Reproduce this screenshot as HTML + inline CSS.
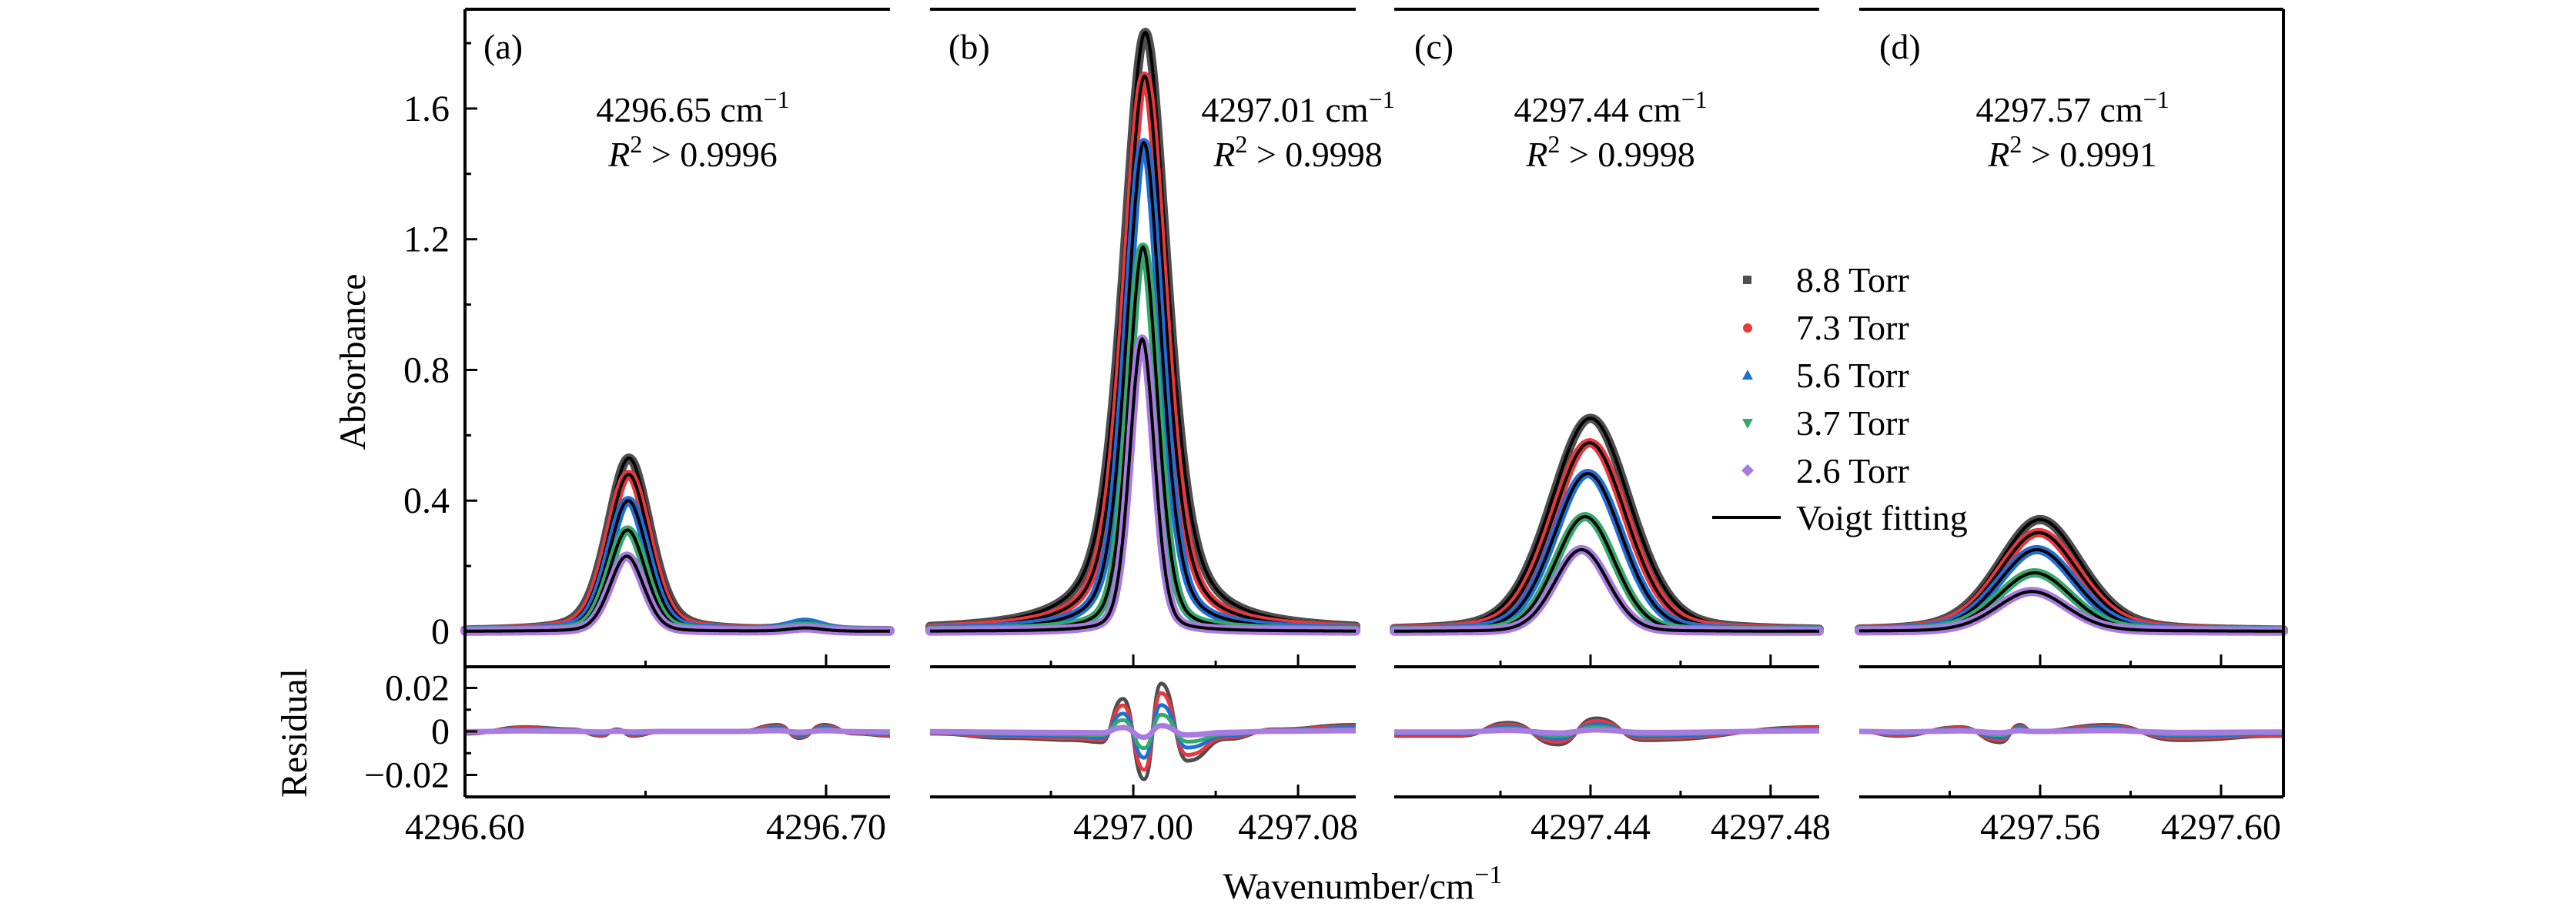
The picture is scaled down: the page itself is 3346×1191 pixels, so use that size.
<!DOCTYPE html>
<html><head><meta charset="utf-8">
<style>
html,body{margin:0;padding:0;background:#fff;}
svg{display:block;}
svg text{font-family:"Liberation Serif","DejaVu Serif",serif;fill:#000;}
</style></head>
<body>
<svg id="chart" xmlns="http://www.w3.org/2000/svg" width="3346" height="1191" viewBox="0 0 3346 1191" font-family="Liberation Serif, DejaVu Serif, serif">
<g id="bands"></g>
<g id="axes"></g>
<g id="legend">
  <rect x="2264" y="358" width="11" height="11" fill="#4d4d4d"/>
  <text x="2333" y="379" font-size="46">8.8 Torr</text>
  <circle cx="2270" cy="426" r="6" fill="#e8383d"/>
  <text x="2333" y="441" font-size="46">7.3 Torr</text>
  <polygon points="2270,480 2277,493 2263,493" fill="#1f6fd6"/>
  <text x="2333" y="503" font-size="46">5.6 Torr</text>
  <polygon points="2263,544 2277,544 2270,557" fill="#35a96b"/>
  <text x="2333" y="565" font-size="46">3.7 Torr</text>
  <polygon points="2270,603 2278,611 2270,619 2262,611" fill="#a97be0"/>
  <text x="2333" y="627" font-size="46">2.6 Torr</text>
  <line x1="2224" y1="672" x2="2313" y2="672" stroke="#000" stroke-width="4"/>
  <text x="2333" y="688" font-size="46">Voigt fitting</text>
</g>
<g id="annot">
  <text x="628" y="76" font-size="46">(a)</text>
  <text x="1232" y="76" font-size="46">(b)</text>
  <text x="1837" y="76" font-size="46">(c)</text>
  <text x="2441" y="76" font-size="46">(d)</text>
  <text x="900" y="158" font-size="46" text-anchor="middle">4296.65 cm<tspan dy="-18" font-size="32">−1</tspan></text>
  <text x="900" y="216" font-size="46" text-anchor="middle"><tspan font-style="italic">R</tspan><tspan dy="-18" font-size="32">2</tspan><tspan dy="18"> &gt; 0.9996</tspan></text>
  <text x="1686" y="158" font-size="46" text-anchor="middle">4297.01 cm<tspan dy="-18" font-size="32">−1</tspan></text>
  <text x="1686" y="216" font-size="46" text-anchor="middle"><tspan font-style="italic">R</tspan><tspan dy="-18" font-size="32">2</tspan><tspan dy="18"> &gt; 0.9998</tspan></text>
  <text x="2092" y="158" font-size="46" text-anchor="middle">4297.44 cm<tspan dy="-18" font-size="32">−1</tspan></text>
  <text x="2092" y="216" font-size="46" text-anchor="middle"><tspan font-style="italic">R</tspan><tspan dy="-18" font-size="32">2</tspan><tspan dy="18"> &gt; 0.9998</tspan></text>
  <text x="2692" y="158" font-size="46" text-anchor="middle">4297.57 cm<tspan dy="-18" font-size="32">−1</tspan></text>
  <text x="2692" y="216" font-size="46" text-anchor="middle"><tspan font-style="italic">R</tspan><tspan dy="-18" font-size="32">2</tspan><tspan dy="18"> &gt; 0.9991</tspan></text>
  <text x="0" y="0" font-size="48" text-anchor="middle" transform="translate(474,470) rotate(-90)">Absorbance</text>
  <text x="0" y="0" font-size="48" text-anchor="middle" transform="translate(398,952) rotate(-90)">Residual</text>
  <text x="1770" y="1167" font-size="48" text-anchor="middle">Wavenumber/cm<tspan dy="-20" font-size="34">−1</tspan></text>
</g>
</svg>
<script>
// ---- data ----
const seriesNames = ["8.8 Torr","7.3 Torr","5.6 Torr","3.7 Torr","2.6 Torr"];
const seriesColors = ["#4d4d4d","#e8383d","#1f6fd6","#35a96b","#a97be0"];
const panelIds = ["a","b","c","d"];
const panelRangeMin = [4296.600, 4296.9013, 4297.3964, 4297.5200];
const panelRangeMax = [4296.7177, 4297.1080, 4297.4908, 4297.6138];
const majorTicks = [[4296.60,4296.70],[4297.00,4297.08],[4297.44,4297.48],[4297.56,4297.60]];
const majorTickLabels = [["4296.60","4296.70"],["4297.00","4297.08"],["4297.44","4297.48"],["4297.56","4297.60"]];
const minorTicks = [[4296.65],[4296.96,4297.04],[4297.42,4297.46],[4297.54,4297.58]];
const absTicks = [0,0.4,0.8,1.2,1.6];
const absTickLabels = ["0","0.4","0.8","1.2","1.6"];
const absMinor = [0.2,0.6,1.0,1.4,1.8];
const resTicks = [0.02,0,-0.02];
const resTickLabels = ["0.02","0","−0.02"];
const resMinor = [0.01,-0.01];
// line centers (cm-1) per panel per series
const centers_a = [4296.6454,4296.6453,4296.6452,4296.6450,4296.6448];
const centers_b = [4297.0058,4297.0055,4297.0051,4297.0047,4297.0043];
const centers_c = [4297.4400,4297.4398,4297.4394,4297.4388,4297.4380];
const centers_d = [4297.5600,4297.5597,4297.5593,4297.5588,4297.5582];
// peak heights
const heights_a = [0.53,0.48,0.40,0.31,0.23];
const heights_b = [1.833,1.699,1.496,1.176,0.895];
const heights_c = [0.652,0.577,0.483,0.351,0.250];
const heights_d = [0.342,0.302,0.250,0.179,0.122];
// FWHM (cm-1)
const fwhm_a = [0.0139,0.0133,0.0126,0.0118,0.0111];
const fwhm_b = [0.0258,0.0230,0.0203,0.0169,0.0143];
const fwhm_c = [0.0208,0.0194,0.0178,0.0156,0.0140];
const fwhm_d = [0.0217,0.0209,0.0202,0.0192,0.0184];
// Lorentzian fraction
const eta_a = [0.35,0.32,0.28,0.22,0.18];
const eta_b = [0.55,0.5,0.42,0.32,0.22];
const eta_c = [0.25,0.22,0.18,0.14,0.1];
const eta_d = [0.3,0.28,0.25,0.22,0.2];
// weak neighbour line in panel (a)
const weakCenter_a = 4296.6942;
const weakHeights_a = [0.022,0.022,0.026,0.016,0.010];
const weakFwhm_a = 0.011;
// residual of 8.8 Torr: wavenumbers & values per panel
const resX_a = [4296.600,4296.6168,4296.6295,4296.6379,4296.6421,4296.6463,4296.6547,4296.6758,4296.6867,4296.6926,4296.6994,4296.7078,4296.7177];
const resY_a = [-0.001,0.002,0.001,-0.002,0.001,-0.002,0.000,0.000,0.003,-0.003,0.003,-0.001,-0.002];
const resX_b = [4296.9013,4296.9402,4296.9712,4296.9845,4296.9950,4297.0052,4297.0136,4297.0263,4297.0450,4297.0690,4297.1080];
const resY_b = [-0.001,-0.003,-0.004,-0.005,0.015,-0.022,0.022,-0.0135,-0.0035,0.001,0.003];
const resX_c = [4297.3964,4297.4113,4297.4218,4297.4328,4297.4412,4297.4519,4297.4908];
const resY_c = [-0.002,-0.002,0.004,-0.006,0.006,-0.004,0.002];
const resX_d = [4297.5200,4297.5285,4297.5424,4297.5512,4297.5555,4297.5583,4297.5749,4297.5906,4297.6138];
const resY_d = [0.000,-0.002,0.002,-0.005,0.003,0.000,0.003,-0.004,-0.002];
const resScale = [1.0,0.8,0.55,0.35,0.12];

// ---- layout ----
const panelLeft = [604,1208,1811,2415];
const panelRight = [1156,1761,2363,2966];
const topY = 12, mainBottom = 866, resBottom = 1035;
const absZeroY = 820, absPxPerUnit = 424.4;
const resZeroY = 950, resPxPerUnit = 2825;
const NS = "http://www.w3.org/2000/svg";
const centers = [centers_a,centers_b,centers_c,centers_d];
const heights = [heights_a,heights_b,heights_c,heights_d];
const fwhms = [fwhm_a,fwhm_b,fwhm_c,fwhm_d];
const etas = [eta_a,eta_b,eta_c,eta_d];
const resXs = [resX_a,resX_b,resX_c,resX_d];
const resYs = [resY_a,resY_b,resY_c,resY_d];

function xScale(p,w){return panelLeft[p]+(w-panelRangeMin[p])/(panelRangeMax[p]-panelRangeMin[p])*(panelRight[p]-panelLeft[p]);}
function yAbs(v){return absZeroY - v*absPxPerUnit;}
function yRes(v){return resZeroY - v*resPxPerUnit;}
function pv(x,c,h,f,eta){const d=(x-c)/(f/2);return h*(eta/(1+d*d)+(1-eta)*Math.exp(-Math.LN2*d*d));}
function mk(tag,attrs,parent){const e=document.createElementNS(NS,tag);for(const k in attrs)e.setAttribute(k,attrs[k]);parent.appendChild(e);return e;}

const bands=document.getElementById('bands');
const axes=document.getElementById('axes');
const FONT='Liberation Serif, DejaVu Serif, serif';
const N=500;
for(let p=0;p<4;p++){
  const g=mk('g',{},bands);
  
  
  for(let s=0;s<5;s++){
    let d='';
    for(let i=0;i<=N;i++){
      const w=panelRangeMin[p]+(panelRangeMax[p]-panelRangeMin[p])*i/N;
      let v=pv(w,centers[p][s],heights[p][s],fwhms[p][s],etas[p][s]);
      if(p===0) v+=pv(w,weakCenter_a,weakHeights_a[s],weakFwhm_a,0.3);
      d+=(i?'L':'M')+xScale(p,w).toFixed(1)+','+yAbs(v).toFixed(1);
    }
    const band=mk('path',{d:d,fill:'none',stroke:seriesColors[s],'stroke-width':12,'stroke-linecap':'round','stroke-linejoin':'round'},g);
    
    
    const fit=mk('path',{d:d,fill:'none',stroke:'#000','stroke-width':4},g);
    
    
  }
  const rg=mk('g',{},bands);
  
  
  for(let s=0;s<5;s++){
    let d='';
    const xs=resXs[p], ys=resYs[p];
    for(let i=0;i<xs.length;i++){
      const x=xScale(p,xs[i]), y=yRes(ys[i]*resScale[s]);
      if(i===0){d+='M'+x.toFixed(1)+','+y.toFixed(1);}
      else{const px=xScale(p,xs[i-1]),py=yRes(ys[i-1]*resScale[s]);const mx=(px+x)/2;d+='C'+mx.toFixed(1)+','+py.toFixed(1)+' '+mx.toFixed(1)+','+y.toFixed(1)+' '+x.toFixed(1)+','+y.toFixed(1);}
    }
    const r=mk('path',{d:d,fill:'none',stroke:seriesColors[s],'stroke-width':s===4?7:5,'stroke-linejoin':'round'},rg);
    
    
  }
  const L=panelLeft[p],R=panelRight[p];
  const fr=mk('g',{stroke:'#000','stroke-width':4,fill:'none'},axes);
  
  
  mk('line',{x1:L,y1:topY,x2:R,y2:topY},fr);
  mk('line',{x1:L,y1:mainBottom,x2:R,y2:mainBottom},fr);
  mk('line',{x1:L,y1:resBottom,x2:R,y2:resBottom},fr);
  if(p===0){mk('line',{x1:L,y1:topY,x2:L,y2:resBottom},fr);}
  if(p===3){mk('line',{x1:R,y1:topY,x2:R,y2:resBottom},fr);}
  const tg=mk('g',{stroke:'#000','stroke-width':3},axes);
  
  
  majorTicks[p].forEach((w,i)=>{
    const x=xScale(p,w);
    mk('line',{x1:x,y1:mainBottom,x2:x,y2:mainBottom-16},tg);
    mk('line',{x1:x,y1:resBottom,x2:x,y2:resBottom-16},tg);
    const t=mk('text',{x:x,y:1090,'font-size':48,'text-anchor':'middle',stroke:'none','font-family':FONT},axes);
    t.textContent=majorTickLabels[p][i];
    
    
  });
  minorTicks[p].forEach(w=>{
    const x=xScale(p,w);
    mk('line',{x1:x,y1:mainBottom,x2:x,y2:mainBottom-8},tg);
    mk('line',{x1:x,y1:resBottom,x2:x,y2:resBottom-8},tg);
  });
}
const yt=mk('g',{stroke:'#000','stroke-width':3},axes);


absTicks.forEach((v,i)=>{
  const y=yAbs(v);
  mk('line',{x1:604,y1:y,x2:620,y2:y},yt);
  const t=mk('text',{x:584,y:y+16,'font-size':48,'text-anchor':'end',stroke:'none','font-family':FONT},axes);
  t.textContent=absTickLabels[i];
  
  
});
absMinor.forEach(v=>{const y=yAbs(v);if(y>topY)mk('line',{x1:604,y1:y,x2:612,y2:y},yt);});
resTicks.forEach((v,i)=>{
  const y=yRes(v);
  mk('line',{x1:604,y1:y,x2:620,y2:y},yt);
  const t=mk('text',{x:584,y:y+16,'font-size':48,'text-anchor':'end',stroke:'none','font-family':FONT},axes);
  t.textContent=resTickLabels[i];
  
  
});
resMinor.forEach(v=>{const y=yRes(v);mk('line',{x1:604,y1:y,x2:612,y2:y},yt);});
</script>
</body></html>
